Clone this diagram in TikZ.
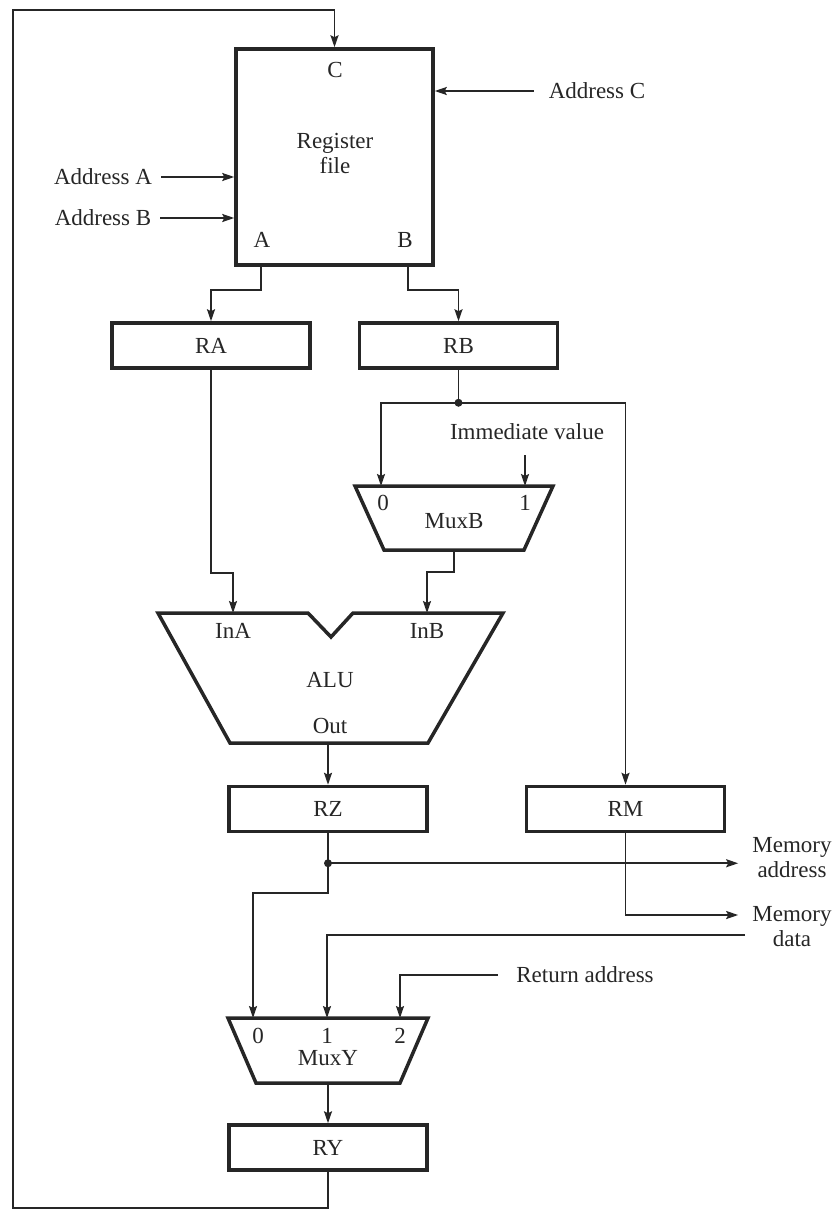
\documentclass[tikz,border=0pt]{standalone}
\usepackage{fontspec}
\setmainfont{Liberation Serif}
\usetikzlibrary{positioning,arrows.meta,calc}
\definecolor{cInk}{HTML}{262626}
\tikzset{
  reg/.style={draw=cInk, line width=3.5pt, minimum width=198pt,
              minimum height=45pt, inner sep=0pt, text=cInk},
  unit/.style={draw=cInk, line width=3.5pt},
  wire/.style={draw=cInk, line width=1.9pt},
  ar/.style={wire, -{Stealth[length=12pt,width=8pt,inset=2pt]}},
  lbl/.style={text=cInk, inner sep=2pt},
  jdot/.style={circle, fill=cInk, inner sep=0pt, minimum size=8pt},
}

\begin{document}
\begin{tikzpicture}[x=1pt, y=-1pt, font=\fontsize{23}{25}\selectfont]
  \useasboundingbox (0,0) rectangle (837,1210);

  % register file
  \node[reg, minimum width=197pt, minimum height=216pt] (rf) at (334.5,157) {};
  \node[lbl] (rfC) at (335,70) {C};
  \node[lbl, align=center] (rfname) at (335,153) {Register\\file};
  \node[lbl] (rfA) at (262,240) {A};
  \node[lbl] (rfB) at (405,240) {B};

  \node[lbl] (adrA) at (103,177) {Address A};
  \node[lbl] (adrB) at (103,218) {Address B};
  \node[lbl] (adrC) at (597,91) {Address C};
  \draw[ar, shorten <=7pt] (adrA) -- (adrA -| rf.west);
  \draw[ar, shorten <=7pt] (adrB) -- (adrB -| rf.west);
  \draw[ar, shorten <=13pt] (adrC) -- (adrC -| rf.east);

  % operand registers
  \node[reg] (ra) at (211,345.5) {RA};
  \node[reg, right=46pt of ra] (rb) {RB};
  \draw[ar] ([xshift=27pt]rf.south west) -- ++(0,23) -| (ra.north);
  \draw[ar] ([xshift=-27pt]rf.south east) -- ++(0,23) -| (rb.north);

  % MuxB
  \draw[unit] (355,486) -- (553,486) -- (524,550) -- (384,550) -- cycle;
  \coordinate (mbin0) at (381,486);
  \coordinate (mbin1) at (525,486);
  \coordinate (mbout) at (454,550);
  \node[lbl] (mb0) at (383,503) {0};
  \node[lbl] (mb1) at (525,503) {1};
  \node[lbl] (mbname) at (454,521) {MuxB};
  \node[lbl] (imm) at (527,432) {Immediate value};

  % ALU
  \draw[unit] (158,613) -- (308,613) -- (331,637) -- (353,613) -- (503,613)
    -- (428,743) -- (230,743) -- cycle;
  \coordinate (inA) at (233,613);
  \coordinate (inB) at (427,613);
  \coordinate (aluout) at (328,743);
  \node[lbl] (inAl) at (233,631) {InA};
  \node[lbl] (inBl) at (427,631) {InB};
  \node[lbl] (alu) at (330,680) {ALU};
  \node[lbl] (outl) at (330,726) {Out};

  % result registers
  \node[reg] (rz) at (328,809) {RZ};
  \node[reg, right=96pt of rz] (rm) {RM};
  \node[lbl, align=center] (memaddr) at (792,858) {Memory\\address};
  \node[lbl, align=center] (memdata) at (792,927) {Memory\\data};

  % MuxY
  \draw[unit] (228,1018) -- (428,1018) -- (400,1083) -- (256,1083) -- cycle;
  \coordinate (myin0) at (253,1018);
  \coordinate (myin1) at (327,1018);
  \coordinate (myin2) at (400,1018);
  \coordinate (myout) at (328,1083);
  \node[lbl] (my0) at (258,1036) {0};
  \node[lbl] (my1) at (327,1036) {1};
  \node[lbl] (my2) at (400,1036) {2};
  \node[lbl] (myname) at (328,1058) {MuxY};
  \node[lbl] (retaddr) at (585,975) {Return address};

  \node[reg] (ry) at (328,1147.5) {RY};
  \coordinate (fbl) at (13,1208);
  \coordinate (fbt) at (13,10);

  % datapath wires
  \draw[wire] (rb.south) -- ++(0,33) coordinate (jb);
  \node[jdot] (jbdot) at (jb) {};
  \draw[ar] (jb) -| (mbin0);
  \draw[ar] (jb) -| (rm.north);
  \draw[ar, shorten <=13pt] (imm.south -| mbin1) -- (mbin1);
  \draw[ar] (ra.south) -- ++(0,203) -| (inA);
  \draw[ar] (mbout) -- ++(0,22) -| (inB);
  \draw[ar] (aluout) -- (rz.north);

  \draw[wire] (rz.south) -- ++(0,30) coordinate (jz);
  \node[jdot] (jzdot) at (jz) {};
  \draw[ar, shorten >=12pt] (jz) -- (jz -| memaddr.west);
  \draw[ar, shorten >=12pt] (rm.south) |- ([yshift=12pt]memdata.west);
  \draw[ar] (jz) -- ++(0,30) -| (myin0);
  \draw[ar, shorten <=5pt] ([yshift=-8pt]memdata.west) -| (myin1);
  \draw[ar] ([xshift=-16pt]retaddr.west) -| (myin2);
  \draw[ar] (myout) -- (ry.north);

  % write-back loop
  \draw[ar] (ry.south) |- (fbl) -- (fbt) -| (rf.north);
\end{tikzpicture}
\end{document}
